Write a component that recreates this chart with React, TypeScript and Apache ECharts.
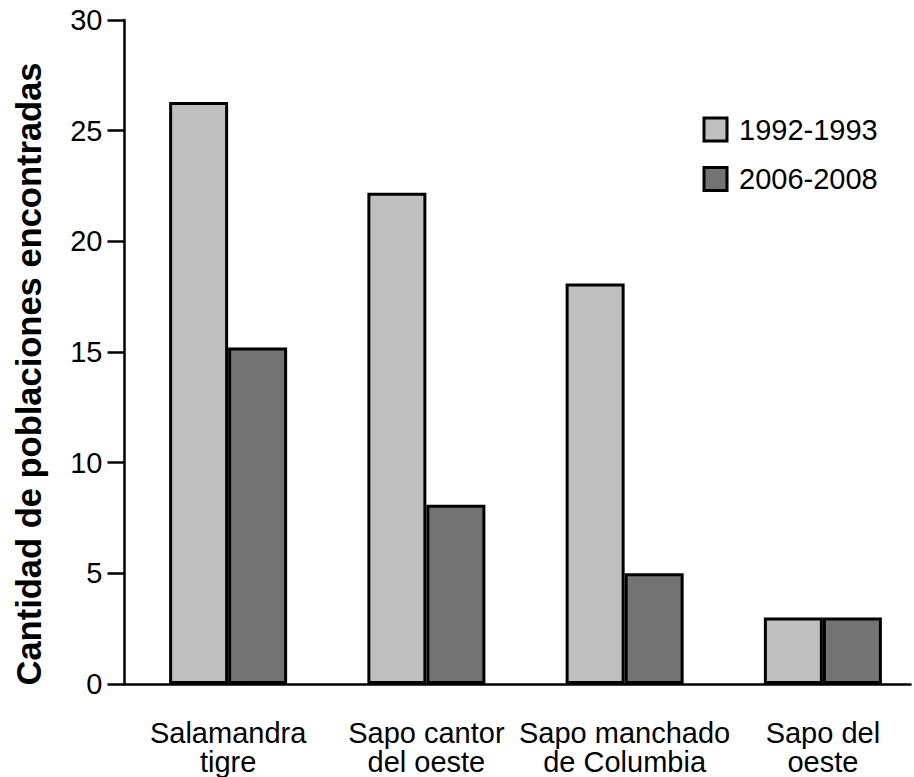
import React, { useEffect, useRef } from "react";
import * as echarts from "echarts";

const categories = ["Salamandra\ntigre", "Sapo cantor\ndel oeste", "Sapo manchado\nde Columbia", "Sapo del\noeste"];
const seriesNames = ["1992-1993", "2006-2008"];
const values1992 = [26.3, 22.2, 18.1, 3.0];
const values2006 = [15.2, 8.1, 5.0, 3.0];
const yTitle = "Cantidad de poblaciones encontradas";

const FONT = "'Liberation Sans', Arial, Helvetica, sans-serif";

export default function App() {
  const ref = useRef<HTMLDivElement>(null);
  useEffect(() => {
    document.body.style.margin = "0";
    document.body.style.overflow = "hidden";
    if (!ref.current) return;
    const chart = echarts.init(ref.current, null, { renderer: "svg" });
    const lineStyle = { color: "#000", width: 2.5 };
    chart.setOption({
      animation: false,
      backgroundColor: "#fff",
      textStyle: { fontFamily: FONT, color: "#000" },
      grid: [
        { left: 129, top: 20, width: 793, height: 664, containLabel: false },
        { left: 124.5, top: 20, width: 786, height: 664, containLabel: false },
      ],
      graphic: [
        {
          type: "text",
          x: 29,
          y: 374,
          rotation: Math.PI / 2,
          style: {
            text: yTitle,
            fontFamily: FONT,
            fontSize: 34.5,
            fontWeight: "bold",
            fill: "#000",
            align: "center",
            verticalAlign: "middle",
          },
        },
      ],
      legend: {
        orient: "vertical",
        left: 697.5,
        top: 110,
        itemWidth: 23,
        itemHeight: 23,
        itemGap: 20.5,
        icon: "rect",
        data: seriesNames,
        itemStyle: { borderColor: "#000", borderWidth: 3 },
        textStyle: { fontFamily: FONT, fontSize: 29, color: "#000", padding: [0, 0, 0, 7] },
      },
      xAxis: [
        {
          type: "category",
          gridIndex: 0,
          data: categories,
          axisLine: { show: false },
          axisTick: { show: false },
          axisLabel: {
            interval: 0,
            margin: 34,
            fontFamily: FONT,
            fontSize: 29,
            lineHeight: 29,
            color: "#000",
            align: "center",
          },
        },
        {
          type: "value",
          gridIndex: 1,
          min: 0,
          max: 1,
          axisLine: { show: true, onZero: false, lineStyle },
          axisTick: { show: false },
          axisLabel: { show: false },
          splitLine: { show: false },
        },
      ],
      yAxis: [
        {
          type: "value",
          gridIndex: 0,
          min: 0,
          max: 30,
          interval: 5,
          offset: 4.5,
          axisLine: { show: true, lineStyle },
          axisTick: { show: true, length: 17, inside: false, lineStyle },
          axisLabel: { margin: 22, fontFamily: FONT, fontSize: 29, color: "#000" },
          splitLine: { show: false },
        },
        {
          type: "value",
          gridIndex: 1,
          min: 0,
          max: 1,
          show: false,
        },
      ],
      series: [
        {
          name: seriesNames[0],
          type: "bar",
          xAxisIndex: 0,
          yAxisIndex: 0,
          data: values1992,
          barWidth: 59,
          barGap: "0%",
          itemStyle: { color: "#bfbfbf", borderColor: "#000", borderWidth: 3 },
        },
        {
          name: seriesNames[1],
          type: "bar",
          xAxisIndex: 0,
          yAxisIndex: 0,
          data: values2006,
          barWidth: 59,
          barGap: "0%",
          itemStyle: { color: "#737373", borderColor: "#000", borderWidth: 3 },
        },
      ],
    });
    return () => chart.dispose();
  }, []);
  return <div ref={ref} style={{ width: 940, height: 777 }} />;
}
